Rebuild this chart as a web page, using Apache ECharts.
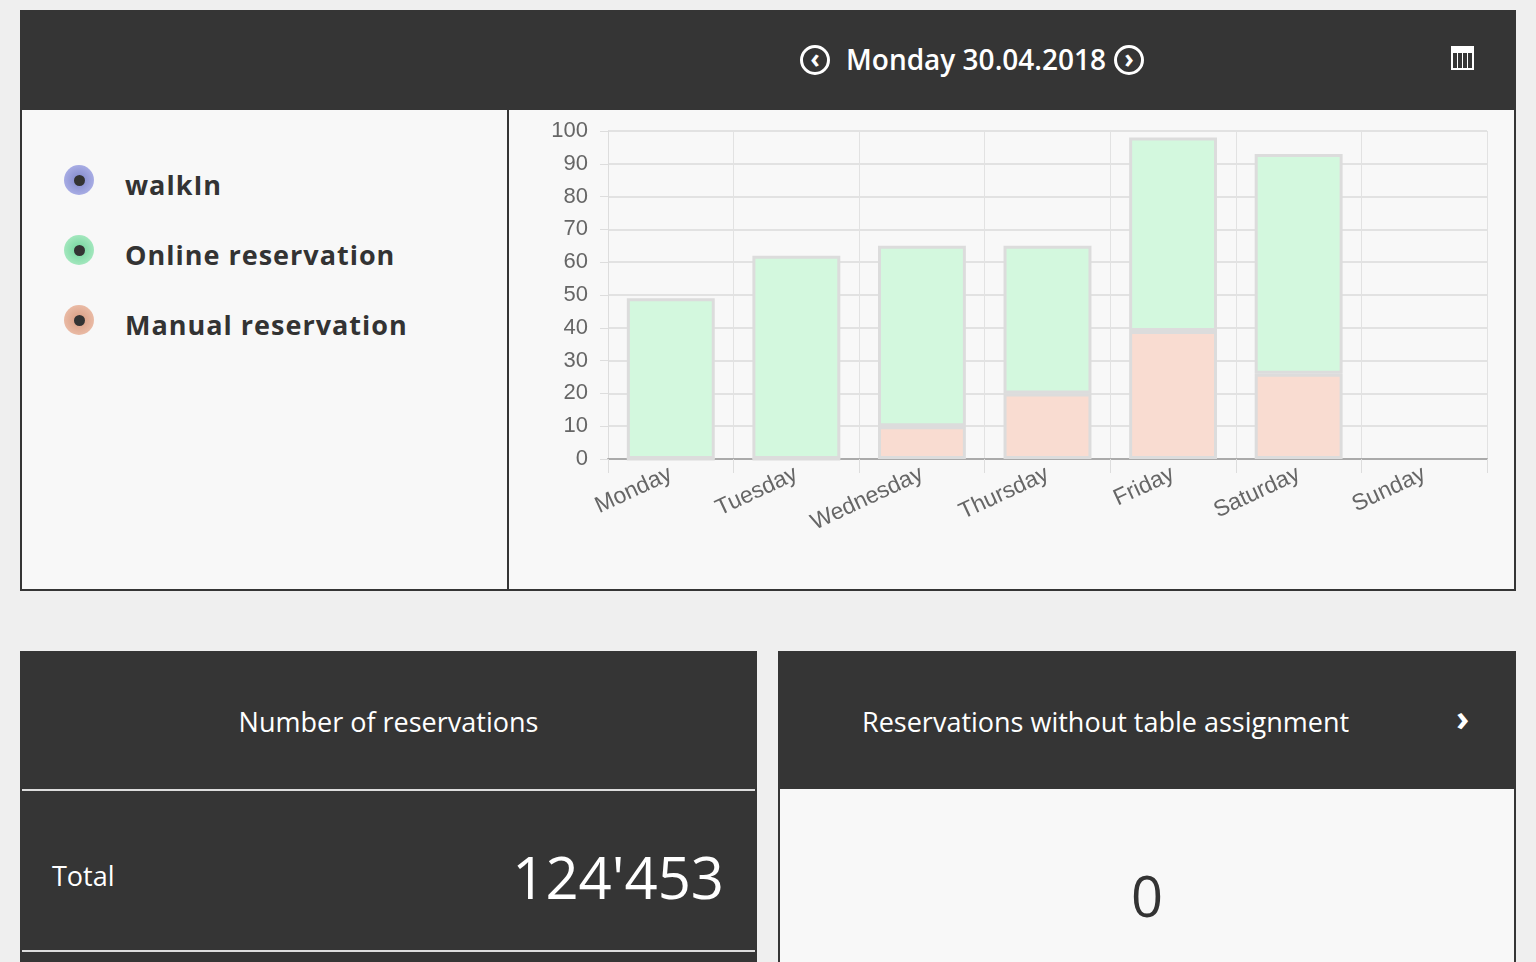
<!DOCTYPE html>
<html>
<head>
<meta charset="utf-8">
<script src="https://cdn.jsdelivr.net/npm/echarts@6/dist/echarts.min.js"></script>
<style>
  body { margin:0; background:#efefef; font-family:"Open Sans","DejaVu Sans",sans-serif; width:1536px; height:962px; overflow:hidden; position:relative; }
  .dark { background:#353535; color:#fff; position:absolute; }
  .light { background:#f8f8f8; position:absolute; box-sizing:border-box; border:2px solid #353535; }
  .dot { position:absolute; width:30px; height:30px; border-radius:50%; }
  .dot:after { content:""; position:absolute; left:10px; top:10px; width:11px; height:11px; border-radius:50%; background:#333; }
  .lg { position:absolute; left:125px; font-size:27px; font-weight:bold; color:#333; letter-spacing:1px; }
</style>
</head>
<body>
<div class="dark" style="left:20px;top:10px;width:1496px;height:99px;">
  <div style="position:absolute;left:780px;top:35px;width:30px;height:30px;border:3px solid #fff;border-radius:50%;box-sizing:border-box;font-size:26px;line-height:20px;text-align:center;font-weight:bold;">&lsaquo;</div>
  <div style="position:absolute;left:826px;top:30px;font-size:28px;font-weight:600;">Monday 30.04.2018</div>
  <div style="position:absolute;left:1094px;top:35px;width:30px;height:30px;border:3px solid #fff;border-radius:50%;box-sizing:border-box;font-size:26px;line-height:20px;text-align:center;font-weight:bold;">&rsaquo;</div>
  <div style="position:absolute;left:1431px;top:36px;width:23px;height:24px;border:2px solid #fff;box-sizing:border-box;border-top-width:7px;background:repeating-linear-gradient(90deg,transparent 0 4px,#fff 4px 5px);"></div>
</div>
<div class="light" style="left:20px;top:108px;width:490px;height:483px;border-right:none;"></div>
<div style="position:absolute;left:507px;top:108px;width:4px;height:483px;background:#353535;"></div>
<div class="light" style="left:509px;top:108px;width:1007px;height:483px;border-left:none;"></div>

<div class="dot" style="left:64px;top:165px;background:radial-gradient(#7f86c8,#b8bcf0);"></div>
<div class="lg" style="top:166px;">walkIn</div>
<div class="dot" style="left:64px;top:235px;background:radial-gradient(#6fd29a,#b8f0cc);"></div>
<div class="lg" style="top:236px;">Online reservation</div>
<div class="dot" style="left:64px;top:305px;background:radial-gradient(#d69a80,#f2c8b4);"></div>
<div class="lg" style="top:306px;">Manual reservation</div>

<div id="chart" style="position:absolute;left:511px;top:110px;width:1003px;height:478px;"></div>

<div class="dark" style="left:20px;top:651px;width:737px;height:311px;">
  <div style="position:absolute;left:0;width:737px;top:52px;text-align:center;font-size:27px;">Number of reservations</div>
  <div style="position:absolute;left:2px;right:2px;top:138px;height:2px;background:#ddd;"></div>
  <div style="position:absolute;left:32px;top:206px;font-size:27px;">Total</div>
  <div style="position:absolute;right:33px;top:186px;font-size:58px;">124'453</div>
  <div style="position:absolute;left:2px;right:2px;top:299px;height:2px;background:#ddd;"></div>
</div>
<div class="dark" style="left:778px;top:651px;width:738px;height:139px;">
  <div style="position:absolute;left:84px;top:52px;font-size:27px;">Reservations without table assignment</div>
  <div style="position:absolute;left:678px;top:42px;font-size:36px;font-weight:bold;">&rsaquo;</div>
</div>
<div class="light" style="left:778px;top:789px;width:738px;height:180px;border-top:none;">
  <div style="position:absolute;left:0;width:734px;top:68px;text-align:center;font-size:56px;color:#333;">0</div>
</div>

<script>
const days = ['Monday','Tuesday','Wednesday','Thursday','Friday','Saturday','Sunday'];
const walkIn = [0, 0, 0, 0, 0, 0, null];
const online = [49, 62, 55, 45, 59, 67, null];
const manual = [0, 0, 10, 20, 39, 26, null];

let chart = echarts.init(document.getElementById('chart'));
const border = {borderColor:'#dcdcdc', borderWidth:3};
chart.setOption({
  animation: false,
  grid: {left:97, right:27, top:21, bottom:129},
  xAxis: {
    type:'category', data:days,
    axisLine:{lineStyle:{color:'#aaa', width:2}},
    axisTick:{show:true, length:14, lineStyle:{color:'#ddd'}},
    splitLine:{show:true, lineStyle:{color:'#e2e2e2'}},
    axisLabel:{rotate:25, color:'#666', fontSize:23, fontFamily:'Liberation Sans', margin:14}
  },
  yAxis: {
    type:'value', min:0, max:100, interval:10,
    axisLine:{show:true, lineStyle:{color:'#ddd'}},
    axisTick:{show:true, length:8, lineStyle:{color:'#ddd'}},
    splitLine:{lineStyle:{color:'#e2e2e2', width:2}},
    axisLabel:{color:'#666', fontSize:22, fontFamily:'Liberation Sans', margin:20}
  },
  series: [
    {name:'Manual reservation', type:'bar', stack:'a', barWidth:'70%', data:manual, itemStyle:Object.assign({color:'#f9dcd1'}, border)},
    {name:'Online reservation', type:'bar', stack:'a', data:online, itemStyle:Object.assign({color:'#d3f8de'}, border)},
    {name:'walkIn', type:'bar', stack:'a', data:walkIn, itemStyle:{color:'#c5c8f3', borderWidth:0}}
  ]
});
</script>
</body>
</html>
